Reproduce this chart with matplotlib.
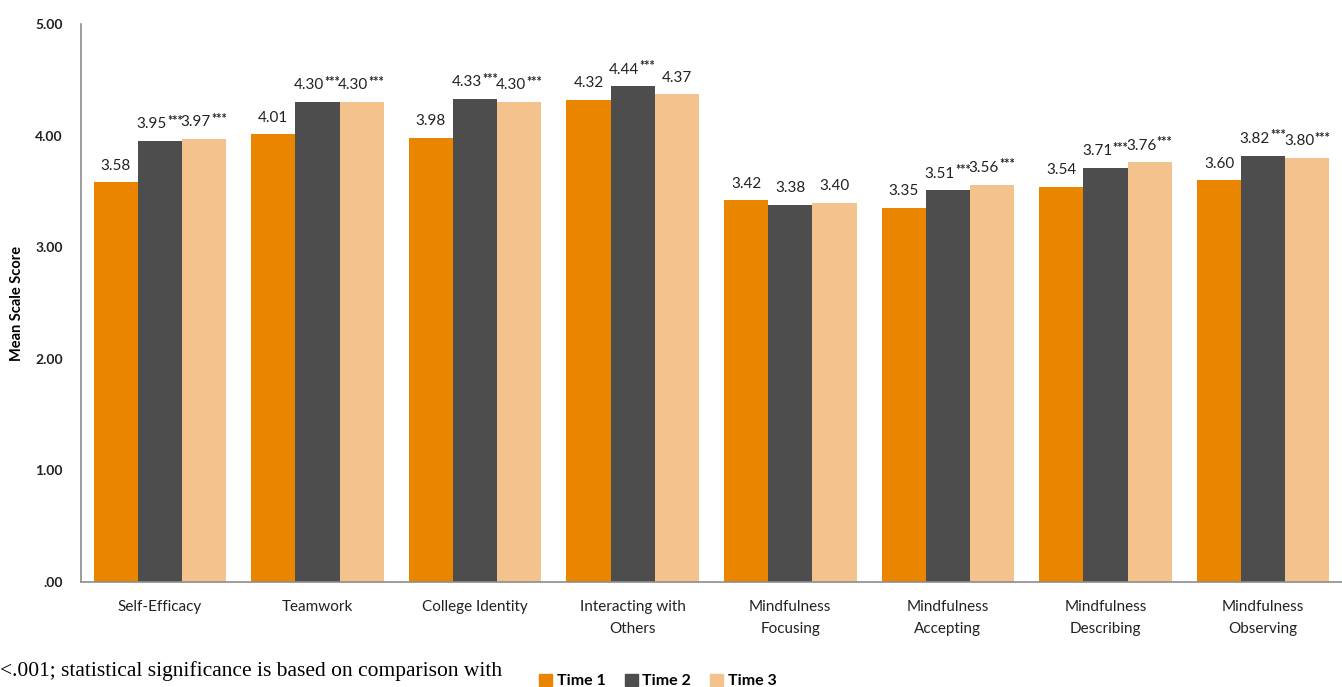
import matplotlib
matplotlib.use("Agg")
import matplotlib.pyplot as plt
import numpy as np
from matplotlib.patches import Patch

categories = ["Self-Efficacy", "Teamwork", "College Identity", "Interacting with\nOthers",
              "Mindfulness\nFocusing", "Mindfulness\nAccepting", "Mindfulness\nDescribing",
              "Mindfulness\nObserving"]
time1 = [3.58, 4.01, 3.98, 4.32, 3.42, 3.35, 3.54, 3.60]
time2 = [3.95, 4.30, 4.33, 4.44, 3.38, 3.51, 3.71, 3.82]
time3 = [3.97, 4.30, 4.30, 4.37, 3.40, 3.56, 3.76, 3.80]
sig2 = [True, True, True, True, False, True, True, True]
sig3 = [True, True, True, False, False, True, True, True]
series_names = ["Time 1", "Time 2", "Time 3"]
yticks = [0, 1, 2, 3, 4, 5]
ytick_labels = [".00", "1.00", "2.00", "3.00", "4.00", "5.00"]

colors = ["#EA8500", "#4D4D4D", "#F4C38D"]
plt.rcParams['font.family'] = ['Lato', 'DejaVu Sans']

fig = plt.figure(figsize=(13.42, 6.87), dpi=100)
ax = fig.add_axes([81/1342, 1 - 582/687, 1 - 81/1342, (582 - 24)/687])

x = np.arange(len(categories))
w = 0.28
series = [time1, time2, time3]
sigs = [[False]*len(categories), sig2, sig3]
for i, (vals, sg) in enumerate(zip(series, sigs)):
    pos = x + (i - 1) * w
    ax.bar(pos, vals, width=w, color=colors[i], label=series_names[i])
    for p, v, s in zip(pos, vals, sg):
        dx = -6 if s else 0
        t = ax.annotate(f"{v:.2f}", (p, v), xytext=(dx, 7), textcoords="offset points",
                        ha="center", va="bottom", fontsize=11, color="#222222")
        if s:
            ax.annotate("***", xy=(1, 1), xycoords=t, xytext=(0.3, 1.8),
                        textcoords="offset points", ha="left", va="top",
                        fontsize=9, fontweight="bold", color="#222222")

ax.set_xlim(-0.5, len(categories) - 0.5)
ax.set_ylim(0, 5)
ax.set_yticks(yticks)
ax.set_yticklabels(ytick_labels, fontsize=10, fontweight="bold", color="#222222")
ax.set_xticks(x)
ax.set_xticklabels(categories, fontsize=11, color="#222222", linespacing=1.75)
ax.tick_params(axis="both", length=0)
ax.tick_params(axis="x", pad=13)
ax.tick_params(axis="y", pad=13)
for s in ["top", "right"]:
    ax.spines[s].set_visible(False)
for s in ["left", "bottom"]:
    ax.spines[s].set_color("#8C8C8C")
    ax.spines[s].set_linewidth(1.2)
ax.set_ylabel("Mean Scale Score", fontsize=10.5, fontweight="bold")
ax.yaxis.set_label_coords(-0.045, 0.5)

fig.text(0.0, 1 - 671/687, "<.001; statistical significance is based on comparison with",
         family=["Liberation Serif", "DejaVu Serif"], fontsize=15.5, va="center", ha="left")

handles = [Patch(color=c) for c in colors]
fig.legend(handles, series_names, loc="center", bbox_to_anchor=(658/1342, 1 - 681/687),
           ncol=3, frameon=False, handlelength=0.8, handleheight=0.8,
           columnspacing=1.2, handletextpad=0.3, prop={"weight": "bold", "size": 11.5})

fig.savefig("out.png", dpi=100)
